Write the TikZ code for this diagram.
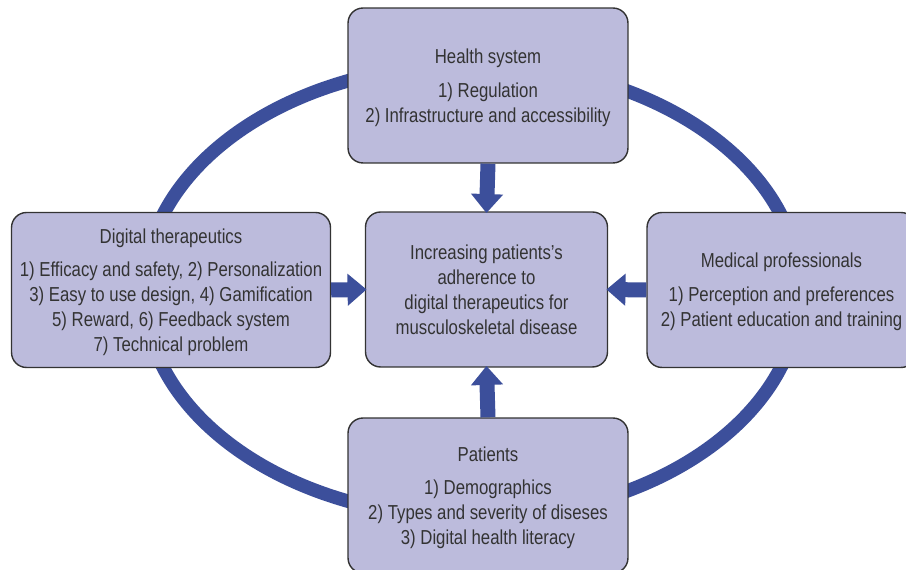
\documentclass[tikz,border=0pt]{standalone}
\usepackage{fontspec}
\setmainfont{Liberation Sans}[FakeStretch=0.83]
\usetikzlibrary{arrows.meta}

\definecolor{ringblue}{HTML}{3C4F9B}
\definecolor{boxfill}{HTML}{BCBBDC}
\definecolor{textgray}{HTML}{333333}

\tikzset{
  factor/.style={draw=textgray, line width=0.8pt, fill=boxfill, rounded corners=0.3cm,
    align=center, text=textgray, inner sep=0pt, minimum height=3.1cm, text depth=-2pt,
    font=\fontsize{11.5}{14.2}\selectfont},
  flow/.style={draw=ringblue, line width=0.3cm,
    -{Triangle[length=0.38cm, width=0.62cm]}, shorten >=-1pt},
}

\begin{document}
\begin{tikzpicture}[x=0.02cm, y=-0.02cm]
          \useasboundingbox (0,0) rectangle (906,570);
          \clip (0,0) rectangle (906,570);
          \fill[white] (0,0) rectangle (906,570);

          % ring behind the boxes
          \draw[ringblue, line width=0.27cm] (472,291) ellipse [x radius=6.56cm, y radius=4.54cm];

          \node[factor, minimum width=5.6cm] (health) at (488,85.5)
            {Health system\\[5pt]1) Regulation\\2) Infrastructure and accessibility};
          \node[factor, minimum width=4.84cm] (adherence) at (486.5,289.5)
            {Increasing patients's\\adherence to\\digital therapeutics for\\musculoskeletal disease};
          \node[factor, minimum width=6.38cm] (digital) at (171,290)
            {Digital therapeutics\\[5pt]1) Efficacy and safety, 2) Personalization\\3) Easy to use design, 4) Gamification\\5) Reward, 6) Feedback system\\7) Technical problem};
          \node[factor, minimum width=5.38cm] (medical) at (781.5,290)
            {Medical professionals\\[5pt]1) Perception and preferences\\2) Patient education and training};
          \node[factor, minimum width=5.6cm] (patients) at (488,495.5)
            {Patients\\[5pt]1) Demographics\\2) Types and severity of diseses\\3) Digital health literacy};

          \draw[flow] (health.south) -- (adherence.north);
          \draw[flow] (patients.north) -- (adherence.south);
          \draw[flow] (digital.east) -- (adherence.west);
          \draw[flow] (medical.west) -- (adherence.east);

        \end{tikzpicture}
\end{document}
